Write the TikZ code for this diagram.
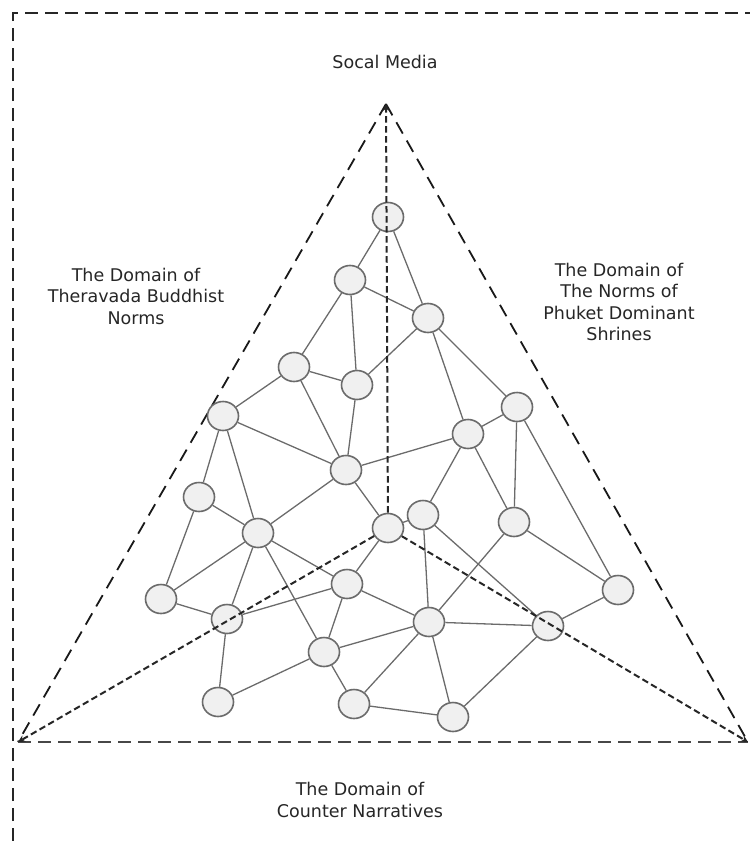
\documentclass[tikz,border=0pt]{standalone}
\usepackage{fontspec}
\setmainfont{DejaVu Sans}
\usetikzlibrary{arrows.meta,shapes.geometric}
\begin{document}
\begin{tikzpicture}[x=1pt,y=-1pt,
  nd/.style={ellipse,draw=black!58,line width=1.6pt,fill=black!6,minimum width=31pt,minimum height=29pt,inner sep=0pt},
  ed/.style={draw=black!58,line width=1.3pt},
  framedash/.style={draw=black!85,line width=2pt,dash pattern=on 13pt off 7pt},
  sidedash/.style={draw=black!90,line width=1.8pt,dash pattern=on 13pt off 8pt},
  basedash/.style={draw=black!72,line width=2.8pt,dash pattern=on 13pt off 7pt},
  innerdash/.style={draw=black!85,line width=2pt,dash pattern=on 6.5pt off 3.5pt},
  tip/.style={-{Stealth[length=7pt,width=7pt]}},
  lbl/.style={align=center,font=\fontsize{17.5}{21.5}\selectfont,text=black!85},
]
\useasboundingbox (0,0) rectangle (750,841);

% frame
\coordinate (fl) at (13,841);
\coordinate (ftl) at (13,13);
\coordinate (ftr) at (750,13);
\draw[framedash] (fl) -- (ftl) -- (ftr);

% outer triangle
\coordinate (apex) at (386,104);
\coordinate (bl) at (18,742);
\coordinate (br) at (748,742);
\draw[sidedash] (apex) -- (bl);
\draw[sidedash] (apex) -- (br);
\draw[basedash] (bl) -- (br);

% labels
\node[lbl] (sm) at (385,62) {Socal Media};
\node[lbl] (tb) at (136,296) {The Domain of\\Theravada Buddhist\\Norms};
\node[lbl] (ph) at (619,302) {The Domain of\\The Norms of\\Phuket Dominant\\Shrines};
\node[lbl] (cn) at (360,800) {The Domain of\\Counter Narratives};

% nodes
\node[nd] (A) at (388,217) {};
\node[nd] (B) at (350,280) {};
\node[nd] (C) at (428,318) {};
\node[nd] (D) at (294,367) {};
\node[nd] (E) at (357,385) {};
\node[nd] (F) at (223,416) {};
\node[nd] (G) at (517,407) {};
\node[nd] (H) at (468,434) {};
\node[nd] (I) at (346,470) {};
\node[nd] (J) at (199,497) {};
\node[nd] (K) at (258,533) {};
\node[nd] (L) at (388,528) {};
\node[nd] (M) at (423,515) {};
\node[nd] (N) at (514,522) {};
\node[nd] (O) at (161,599) {};
\node[nd] (P) at (347,584) {};
\node[nd] (Q) at (227,619) {};
\node[nd] (R) at (618,590) {};
\node[nd] (S) at (429,622) {};
\node[nd] (T) at (548,626) {};
\node[nd] (U) at (324,652) {};
\node[nd] (V) at (218,702) {};
\node[nd] (W) at (354,704) {};
\node[nd] (X) at (453,717) {};

% edges
\foreach \a/\b in {A/B,A/C,B/C,B/D,B/E,C/E,D/E,D/F,D/I,E/I,F/I,F/J,F/K,
  I/H,I/K,I/L,C/H,C/G,G/H,G/N,G/R,H/M,H/N,M/S,M/T,N/S,N/R,R/T,S/T,T/X,
  S/X,S/W,W/X,U/W,U/S,P/S,P/U,P/Q,L/P,K/P,K/U,K/Q,K/O,J/K,J/O,O/Q,Q/V,V/U,L/M}
  \draw[ed] (\a) -- (\b);

% inner dashed arrows from the centre node
\draw[innerdash,tip] (L) -- (apex);
\draw[innerdash,tip] (L) -- (bl);
\draw[innerdash,tip] (L) -- (br);
\end{tikzpicture}
\end{document}
